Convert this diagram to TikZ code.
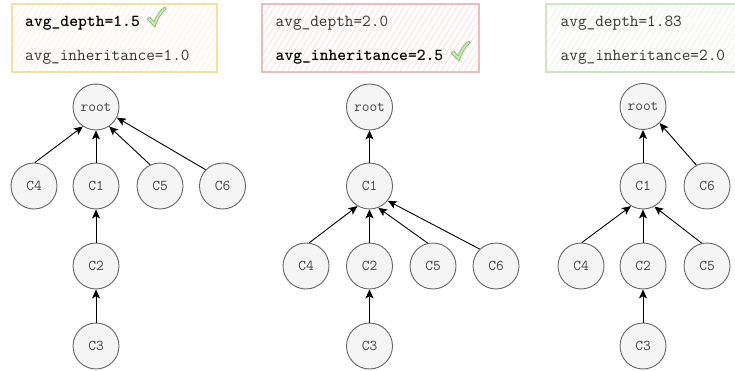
\documentclass[tikz,border=0pt]{standalone}
\usepackage{fontspec}
\usetikzlibrary{arrows.meta,patterns.meta}
\definecolor{cstroke}{HTML}{666666}
\definecolor{cfill}{HTML}{F5F5F5}
\definecolor{ctext}{HTML}{444444}
\definecolor{btext}{HTML}{333333}
\definecolor{ybord}{HTML}{F4DFA6}
\definecolor{yhatch}{HTML}{FCF0D6}
\definecolor{rbord}{HTML}{EBBDBD}
\definecolor{rhatch}{HTML}{F9DEDE}
\definecolor{gbord}{HTML}{CFE3C7}
\definecolor{ghatch}{HTML}{E8F2E3}
\definecolor{chkfill}{HTML}{CDE8BE}
\definecolor{chkline}{HTML}{8CC07A}
\tikzset{
  cnode/.style={circle, draw=cstroke, fill=cfill, line width=0.9pt, minimum size=46pt,
    inner sep=0pt, font=\ttfamily\fontsize{15}{15}\selectfont, text=ctext},
  edge/.style={-{Stealth[length=9pt,width=8pt,inset=2.2pt]}, line width=0.9pt, black},
  mtext/.style={font=\ttfamily\fontsize{16.8}{16.8}\selectfont, anchor=base west,
    inner sep=0pt, text=btext},
  btxt/.style={mtext, font=\ttfamily\bfseries\fontsize{16.8}{16.8}\selectfont, text=black},
  hatchbox/.style={pattern={Lines[angle=58,distance=5pt,line width=0.7pt]}, pattern color=#1},
  checkmark/.style={fill=chkfill, draw=chkline, line width=0.8pt, line join=round},
}
\begin{document}
\begin{tikzpicture}[x=1pt,y=-1pt]
\useasboundingbox (0,0) rectangle (735,371);
% boxes
\fill[hatchbox=yhatch] (12,4) rectangle (217,72);
\draw[ybord, line width=1.1pt] (12,4) rectangle (217,72);
\fill[hatchbox=rhatch] (262,4) rectangle (479,72);
\draw[rbord, line width=1.1pt] (262,4) rectangle (479,72);
\fill[hatchbox=ghatch] (546,4) rectangle (745,72);
\draw[gbord, line width=1.1pt] (546,4) rectangle (745,72);
% texts
\node[btxt] (t1a) at (25,26.5) {avg\_depth=1.5};
\node[mtext] (t1b) at (25,60.5) {avg\_inheritance=1.0};
\node[mtext] (t2a) at (275.5,26.5) {avg\_depth=2.0};
\node[btxt] (t2b) at (275.5,60.5) {avg\_inheritance=2.5};
\node[mtext] (t3a) at (560.5,26.5) {avg\_depth=1.83};
\node[mtext] (t3b) at (560.5,60.5) {avg\_inheritance=2.0};
% check marks
\begin{scope}[shift={(147,7)}]
\path[checkmark] (0,12) -- (3,10) -- (7,15) .. controls (10,8) and (13,3) .. (18,0) -- (19,2) .. controls (14,6) and (11,12) .. (8,20) -- cycle;
\end{scope}
\begin{scope}[shift={(451,41)}]
\path[checkmark] (0,12) -- (3,10) -- (7,15) .. controls (10,8) and (13,3) .. (18,0) -- (19,2) .. controls (14,6) and (11,12) .. (8,20) -- cycle;
\end{scope}
% tree 1
\node[cnode] (aroot) at (96,107) {root};
\node[cnode] (ac4) at (34,186) {C4};
\node[cnode] (ac1) at (96,186) {C1};
\node[cnode] (ac5) at (160,186) {C5};
\node[cnode] (ac6) at (222.5,186) {C6};
\node[cnode] (ac2) at (96,266) {C2};
\node[cnode] (ac3) at (96,346) {C3};
\draw[edge] (ac4.88) -- (aroot.236);
\draw[edge] (ac1.north) -- (aroot.south);
\draw[edge] (ac5.115) -- (aroot.304);
\draw[edge] (ac6.136) -- (aroot.333);
\draw[edge] (ac2.north) -- (ac1.south);
\draw[edge] (ac3.north) -- (ac2.south);
% tree 2
\node[cnode] (broot) at (369.5,107) {root};
\node[cnode] (bc1) at (369.5,186) {C1};
\node[cnode] (bc4) at (306,266) {C4};
\node[cnode] (bc2) at (369.5,266) {C2};
\node[cnode] (bc5) at (433,266) {C5};
\node[cnode] (bc6) at (496,266) {C6};
\node[cnode] (bc3) at (369.5,346) {C3};
\draw[edge] (bc1.north) -- (broot.south);
\draw[edge] (bc4.82) -- (bc1.239);
\draw[edge] (bc2.north) -- (bc1.south);
\draw[edge] (bc5.103) -- (bc1.292);
\draw[edge] (bc6.134) -- (bc1.321);
\draw[edge] (bc3.north) -- (bc2.south);
% tree 3
\node[cnode] (croot) at (643,106.5) {root};
\node[cnode] (cc1) at (643,186) {C1};
\node[cnode] (cc6) at (707,186) {C6};
\node[cnode] (cc4) at (581,266) {C4};
\node[cnode] (cc2) at (643,266) {C2};
\node[cnode] (cc5) at (707,266) {C5};
\node[cnode] (cc3) at (643,346) {C3};
\draw[edge] (cc1.north) -- (croot.south);
\draw[edge] (cc6.117) -- (croot.315);
\draw[edge] (cc4.88) -- (cc1.239);
\draw[edge] (cc2.north) -- (cc1.south);
\draw[edge] (cc5.103) -- (cc1.299);
\draw[edge] (cc3.north) -- (cc2.south);
\end{tikzpicture}
\end{document}
